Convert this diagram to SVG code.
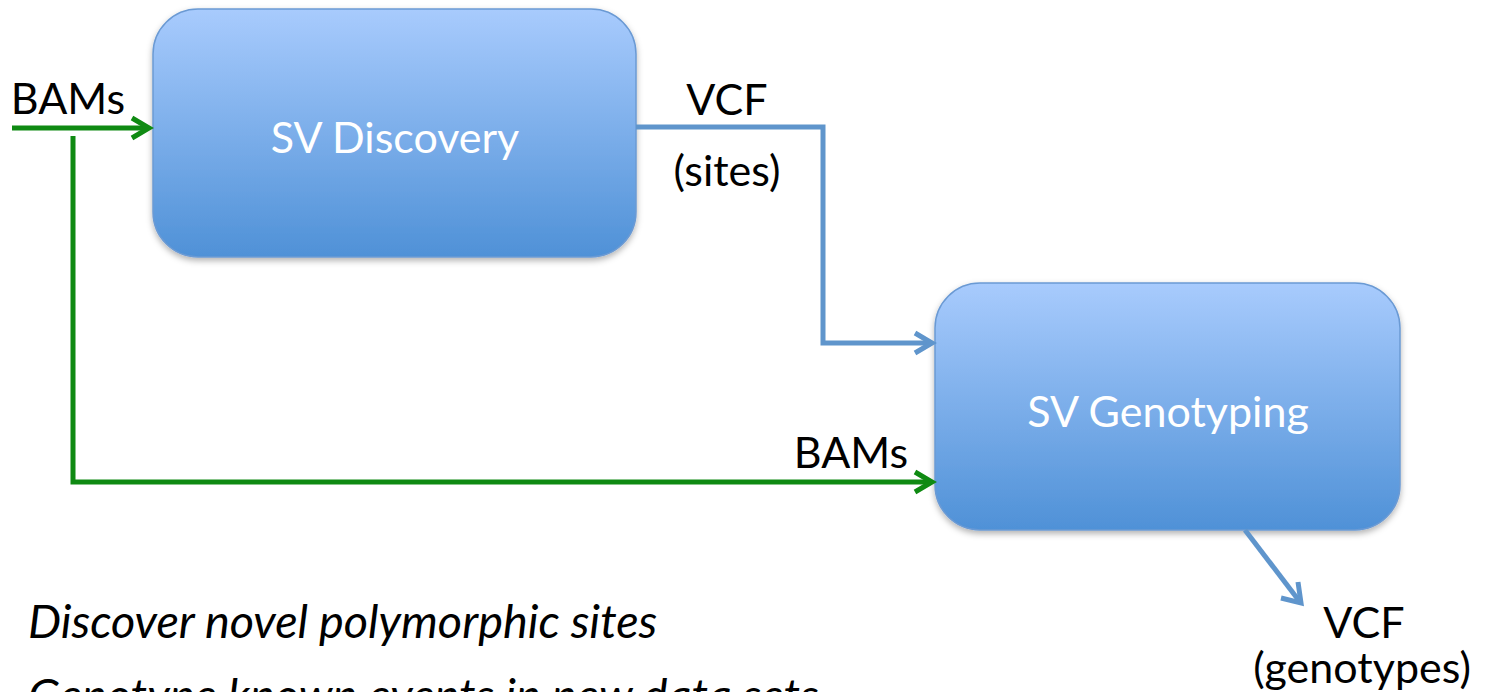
<svg xmlns="http://www.w3.org/2000/svg" width="1487" height="692" viewBox="0 0 1487 692">
<style>
.lbl{font-family:Lato,"Open Sans","Liberation Sans",sans-serif;fill:#000;font-size:43px}
.node-text{font-family:Lato,"Open Sans","Liberation Sans",sans-serif;fill:#fff;font-size:43px}
.it{font-family:Lato,"Open Sans","Liberation Sans",sans-serif;font-style:italic;fill:#000;font-size:46.8px}
.box{fill:url(#g);stroke:#6b9ad4;stroke-width:1.5;filter:url(#sh)}
.green{fill:none;stroke:#0f8a12;stroke-width:5}
.blue{fill:none;stroke:#5f95cc;stroke-width:5}
</style>
<defs>
<linearGradient id="g" x1="0" y1="0" x2="0" y2="1">
<stop offset="0" stop-color="#a8cbfd"/>
<stop offset="1" stop-color="#4f91d7"/>
</linearGradient>
<filter id="sh" x="-10%" y="-10%" width="120%" height="130%">
<feDropShadow dx="0" dy="3" stdDeviation="3" flood-color="#000" flood-opacity="0.3"/>
</filter>
</defs>
<g id="node-discovery">
<rect class="box" x="153" y="9" width="483" height="248" rx="45"/>
<text class="node-text" x="395" y="153" text-anchor="middle">SV Discovery</text>
</g>
<g id="node-genotyping">
<rect class="box" x="935" y="283" width="465" height="247" rx="45"/>
<text class="node-text" x="1168" y="427" text-anchor="middle">SV Genotyping</text>
</g>
<g id="connectors">
<path class="green" d="M12 128 H148"/>
<path class="green" d="M132 118 L149 128 L132 138"/>
<path class="green" d="M73 136 V482 H932"/>
<path class="green" d="M915 472 L932 482 L915 492"/>
<path class="blue" d="M636 127 H823 V343 H932"/>
<path class="blue" d="M915 333 L932 343 L915 353"/>
<path class="blue" d="M1245 530 L1300 602"/>
<path class="blue" d="M1281 598 L1301 603 L1298 582"/>
</g>
<g id="labels">
<text class="lbl" x="68" y="114" text-anchor="middle">BAMs</text>
<text class="lbl" x="727" y="115" text-anchor="middle">VCF</text>
<text class="lbl" x="727" y="186" text-anchor="middle">(sites)</text>
<text class="lbl" x="851" y="468" text-anchor="middle">BAMs</text>
<text class="lbl" x="1364" y="638" text-anchor="middle">VCF</text>
<text class="lbl" x="1362" y="683" text-anchor="middle">(genotypes)</text>
<text class="it" x="28" y="638">Discover novel polymorphic sites</text>
<text class="it" x="28" y="712">Genotype known events in new data sets</text>
</g>
</svg>
